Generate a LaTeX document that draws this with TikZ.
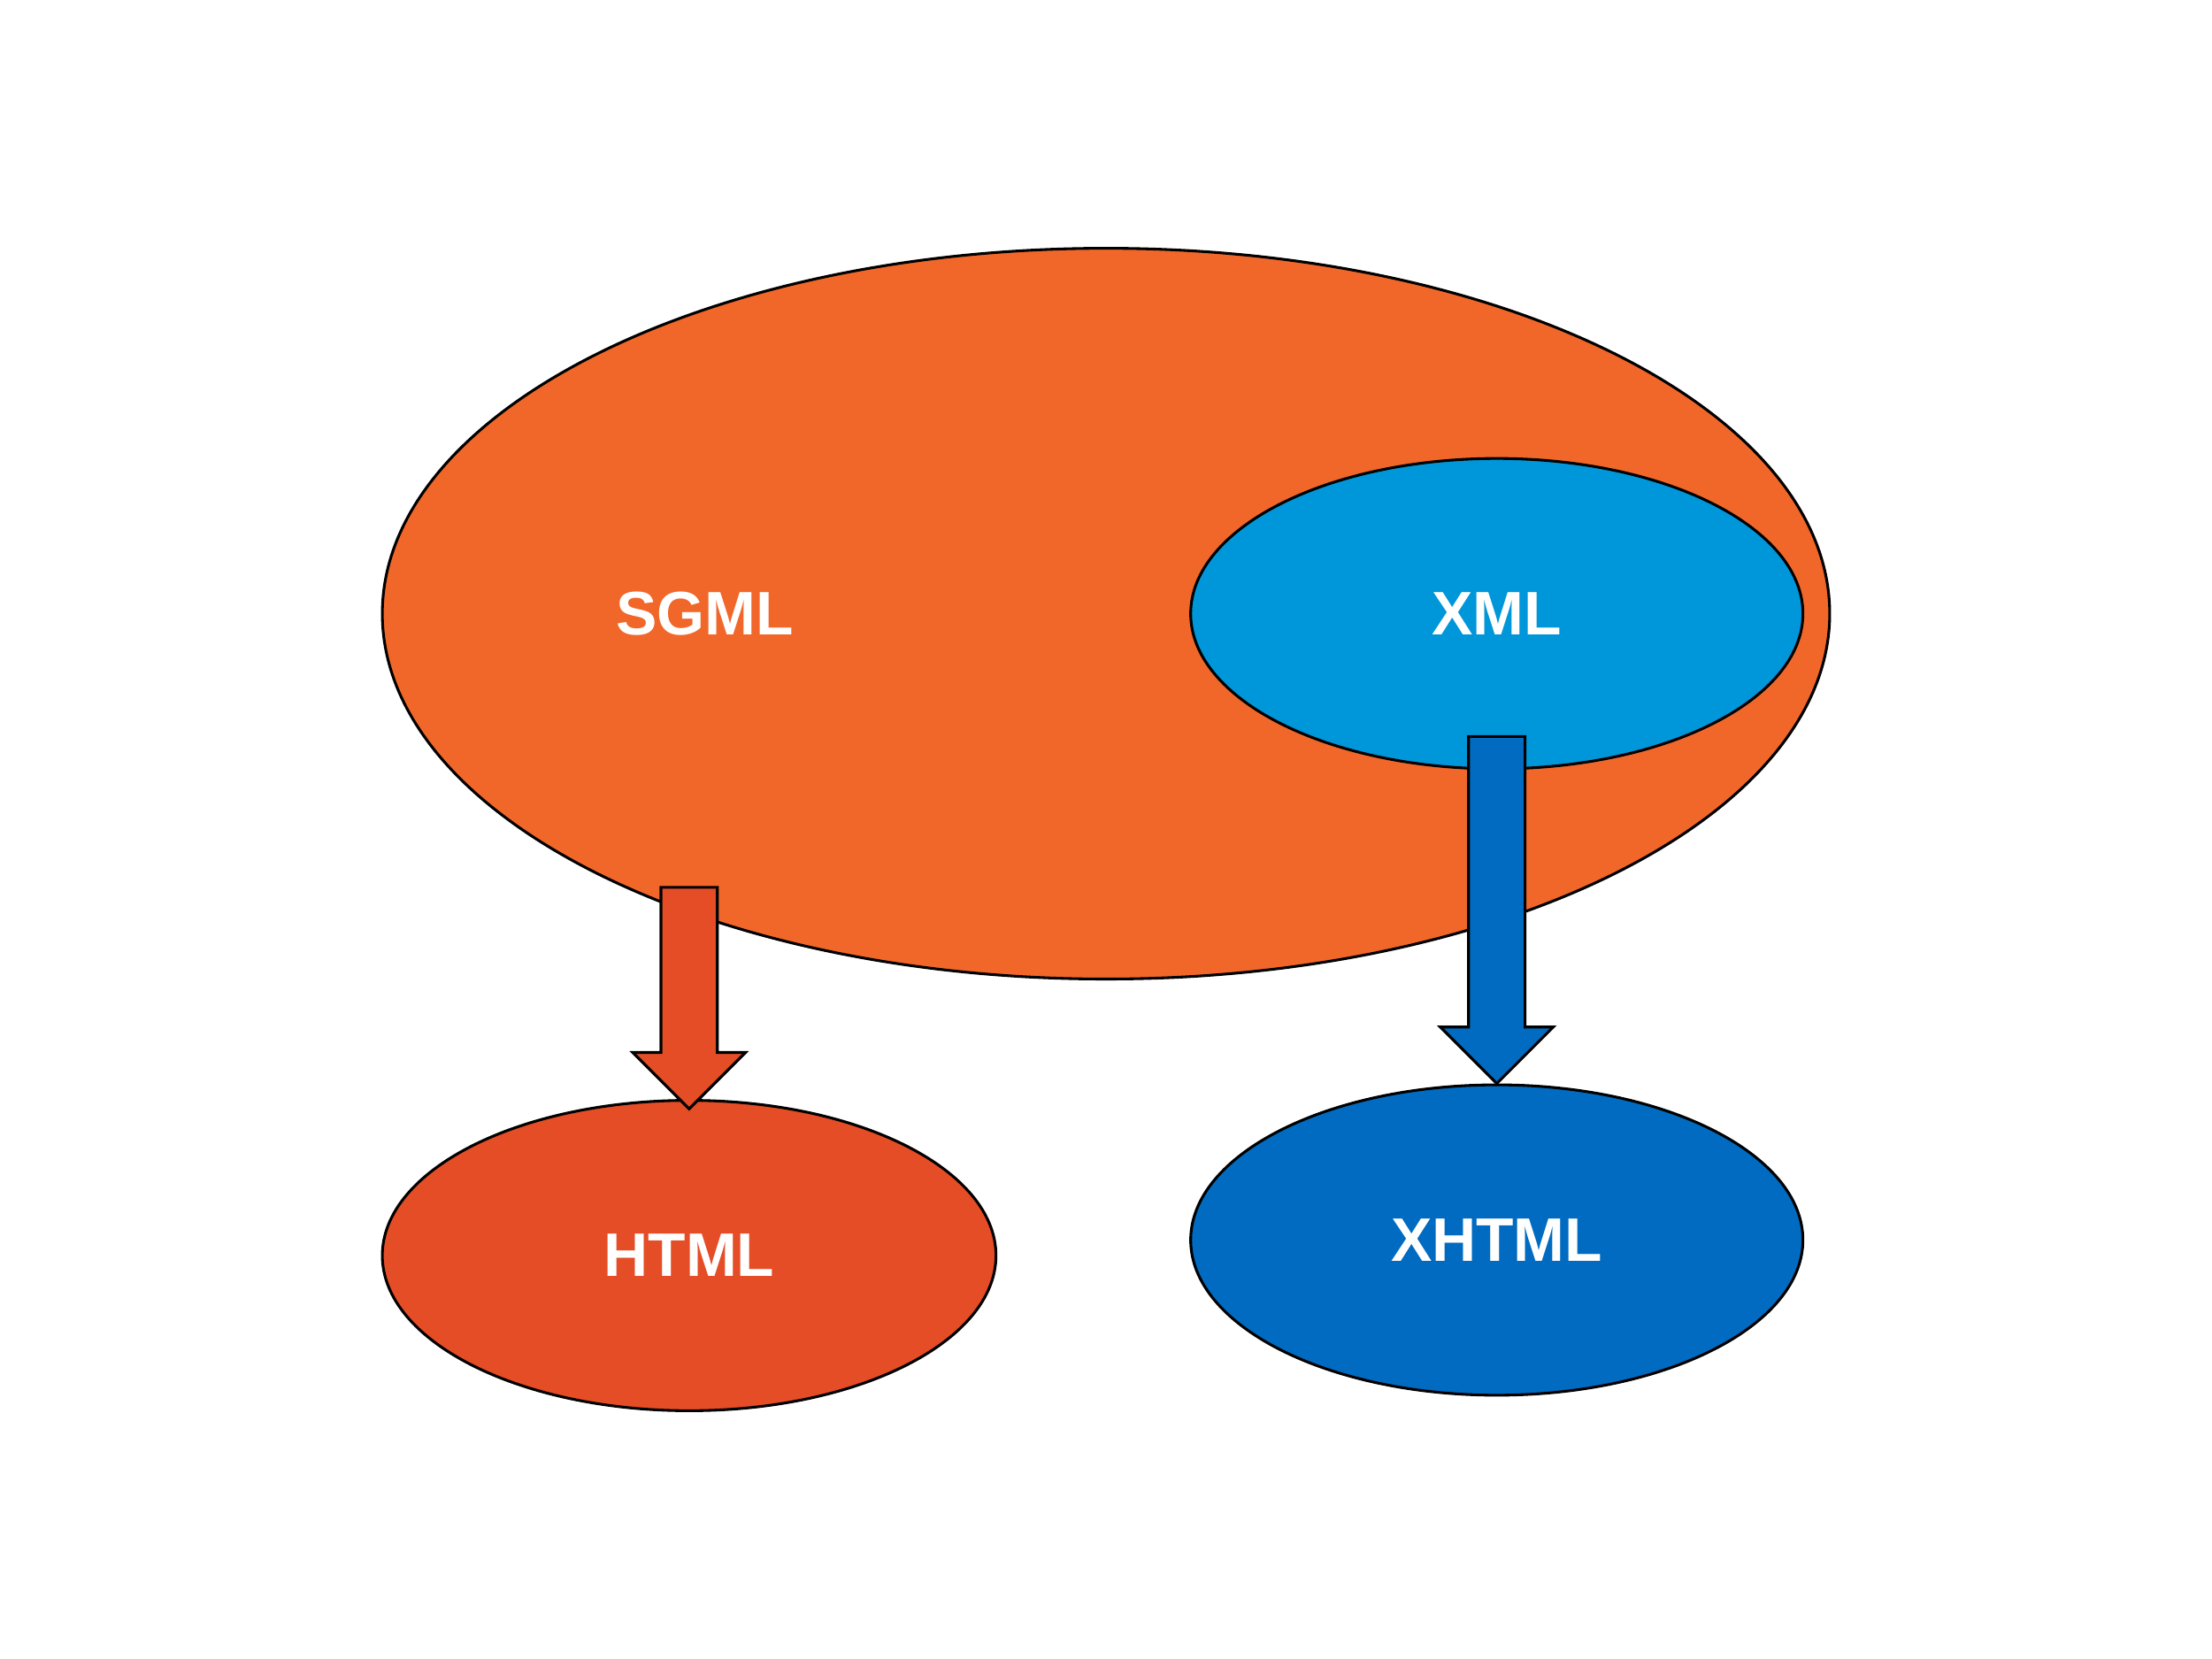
\documentclass[tikz,border=0pt]{standalone}
\usepackage{fontspec}
\setmainfont{Liberation Sans}
\usetikzlibrary{shapes.geometric}
\definecolor{sgmlorange}{HTML}{F1672A}
\definecolor{xmlblue}{HTML}{0096DA}
\definecolor{htmlred}{HTML}{E44D26}
\definecolor{xhtmlblue}{HTML}{006BC0}
\begin{document}
\begin{tikzpicture}[
	blob/.style={ellipse, draw=black, line width=0.55pt, inner sep=0pt},
	lbl/.style={text=white, inner sep=0pt, font=\bfseries\fontsize{12.4}{14}\selectfont},
	blockarrow/.style={draw=black, line width=0.55pt, line join=miter}]
	\useasboundingbox (0,0) rectangle (15.68,-11.76);
	% ellipses
	\node[blob, fill=sgmlorange, minimum width=10.26cm, minimum height=5.18cm] (sgml) at (7.84,-4.35) {};
	\node[blob, fill=xmlblue, minimum width=4.34cm, minimum height=2.2cm] (xml) at (10.61,-4.35) {};
	\node[blob, fill=htmlred, minimum width=4.35cm, minimum height=2.2cm] (html) at (4.885,-8.90) {};
	\node[blob, fill=xhtmlblue, minimum width=4.34cm, minimum height=2.2cm] (xhtml) at (10.61,-8.79) {};
	%
	\draw[blockarrow, fill=htmlred] ([yshift=-0.07cm]html.north) -- ++(-0.40,0.40) -- ++(0.20,0) -- ++(0,1.17)
		-- ++(0.40,0) -- ++(0,-1.17) -- ++(0.20,0) -- cycle;
	\draw[blockarrow, fill=xhtmlblue] (xhtml.north) -- ++(-0.40,0.40) -- ++(0.20,0) -- ++(0,2.06)
		-- ++(0.40,0) -- ++(0,-2.06) -- ++(0.20,0) -- cycle;
	% labels
	\node[lbl] (sgmltext) at (4.995,-4.35) {SGML};
	\node[lbl] (xmltext) at (xml) {XML};
	\node[lbl] (htmltext) at (4.885,-8.895) {HTML};
	\node[lbl] (xhtmltext) at (xhtml) {XHTML};
\end{tikzpicture}
\end{document}
